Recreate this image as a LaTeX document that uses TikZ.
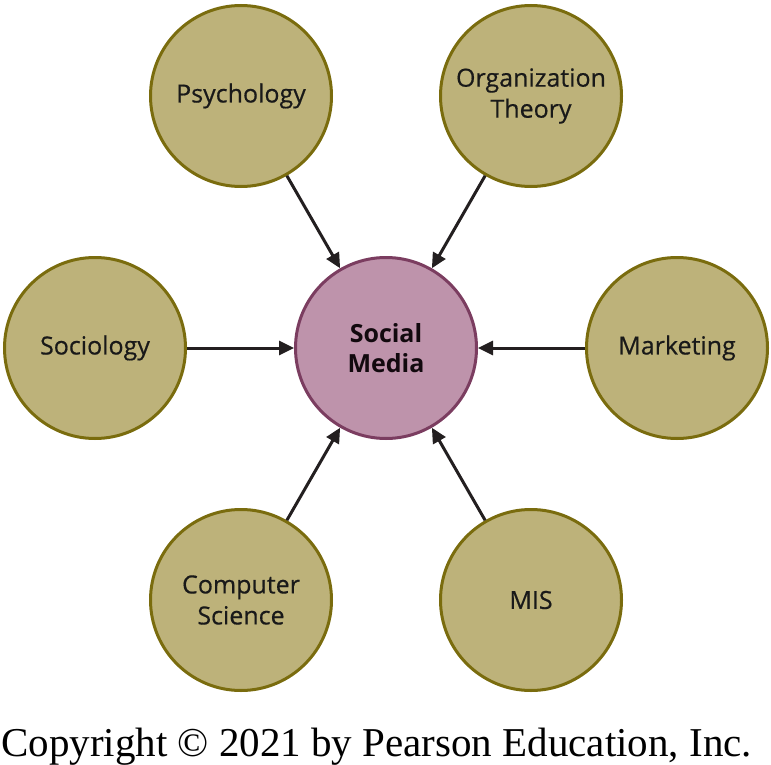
\documentclass[tikz,border=0pt]{standalone}
\usepackage{fontspec}
\setmainfont{Open Sans}
\newfontfamily\labelfont[FakeBold=0.5]{Open Sans}
\newfontfamily\copyfont{Liberation Serif}
\usepackage{tikz}
\usetikzlibrary{arrows.meta}
\definecolor{olivefill}{HTML}{BDB27A}
\definecolor{olivedraw}{HTML}{7A6C0E}
\definecolor{mauvefill}{HTML}{BE93AB}
\definecolor{mauvedraw}{HTML}{7B3D60}
\definecolor{arrowgray}{HTML}{231F20}

\begin{document}
\begin{tikzpicture}[x=1pt,y=-1pt,
  field/.style={circle,draw=olivedraw,fill=olivefill,line width=3pt,
    minimum size=181pt,inner sep=0pt,align=center,text=black!90,
    font=\labelfont\fontsize{25}{31}\selectfont},
  core/.style={field,draw=mauvedraw,fill=mauvefill,text=black!85!mauvedraw,
    font=\fontsize{25}{30}\selectfont\bfseries},
  feed/.style={-{Triangle[length=15pt,width=14pt]},line width=3pt,arrowgray}]
  \useasboundingbox (0,0) rectangle (771,765);
  \node[core] (media) at (386,348) {Social\\Media};
  \node[field] (psy) at (241,96) {Psychology};
  \node[field] (org) at (531,96) {Organization\\Theory};
  \node[field] (soc) at (95,348) {Sociology};
  \node[field] (mkt) at (677,348) {Marketing};
  \node[field] (cs) at (241,600) {Computer\\Science};
  \node[field] (mis) at (531,600) {MIS};
  \foreach \src in {psy,org,soc,mkt,cs,mis}
    \draw[feed] (\src) -- (media);
  \node[anchor=base west,inner sep=0pt] (copy) at (1,756)
    {\copyfont\fontsize{41}{46}\selectfont Copyright \textcopyright{} 2021 by Pearson Education, Inc.};
\end{tikzpicture}
\end{document}
